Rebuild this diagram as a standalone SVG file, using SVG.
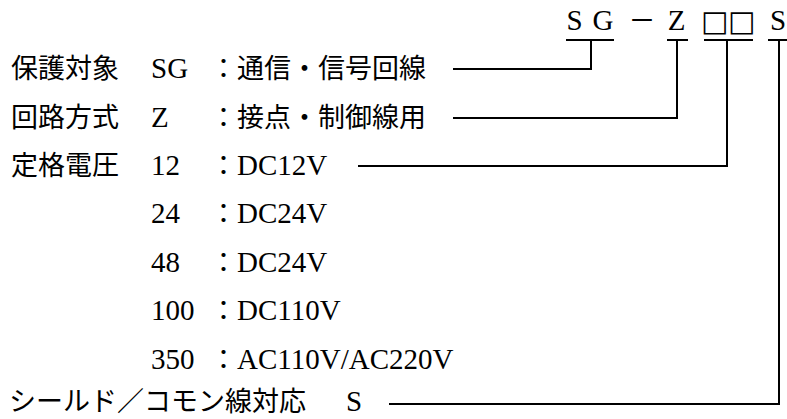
<svg xmlns="http://www.w3.org/2000/svg" width="787" height="419" viewBox="0 0 787 419">
<style>
.lat{font-family:"Liberation Serif","Noto Sans CJK JP",serif;font-size:29px;fill:#000}
.cjk{font-family:"Noto Sans CJK JP",sans-serif;font-size:27px;fill:#000}
.box{font-family:"DejaVu Sans","Noto Sans CJK JP",sans-serif;font-size:29px;fill:#000}
.ln{fill:none;stroke:#000;stroke-width:2}
</style>
<rect width="787" height="419" fill="#fff"/>
<g id="code">
<text class="lat" x="574.5" y="30" text-anchor="middle">S</text>
<text class="lat" x="603" y="30" text-anchor="middle">G</text>
<text class="cjk" x="642" y="30" text-anchor="middle">－</text>
<text class="lat" x="676.5" y="30" text-anchor="middle">Z</text>
<text class="box" x="715" y="31" text-anchor="middle">□</text>
<text class="box" x="742" y="31" text-anchor="middle">□</text>
<text class="lat" x="778" y="30" text-anchor="middle">S</text>
</g>
<g id="row-protect">
<text class="cjk" x="11" y="78">保護対象</text>
<text class="lat" x="151" y="78">SG</text>
<text class="cjk" x="210" y="78">：</text>
<text class="cjk" x="237" y="78">通信・信号回線</text>
</g>
<g id="row-circuit">
<text class="cjk" x="11" y="127">回路方式</text>
<text class="lat" x="151" y="127">Z</text>
<text class="cjk" x="210" y="127">：</text>
<text class="cjk" x="237" y="127">接点・制御線用</text>
</g>
<g id="row-voltage">
<text class="cjk" x="11" y="175">定格電圧</text>
<text class="lat" x="151" y="175">12</text>
<text class="cjk" x="210" y="175">：</text>
<text class="lat" x="237" y="175">DC12V</text>
<text class="lat" x="151" y="223">24</text>
<text class="cjk" x="210" y="223">：</text>
<text class="lat" x="237" y="223">DC24V</text>
<text class="lat" x="151" y="272">48</text>
<text class="cjk" x="210" y="272">：</text>
<text class="lat" x="237" y="272">DC24V</text>
<text class="lat" x="151" y="320">100</text>
<text class="cjk" x="210" y="320">：</text>
<text class="lat" x="237" y="320">DC110V</text>
<text class="lat" x="151" y="369">350</text>
<text class="cjk" x="210" y="369">：</text>
<text class="lat" x="237" y="369">AC110V/AC220V</text>
</g>
<g id="row-shield">
<text class="cjk" x="9" y="411">シールド／コモン線対応</text>
<text class="lat" x="346" y="411">S</text>
</g>
<g id="connectors">
<path class="ln" d="M566,40 H614 M453,69 H591 V40"/>
<path class="ln" d="M667,40 H688 M453,118 H677 V40"/>
<path class="ln" d="M704,40 H753 M358,166 H727 V40"/>
<path class="ln" d="M768,40 H787 M389,404 H779 V40"/>
</g>
</svg>
